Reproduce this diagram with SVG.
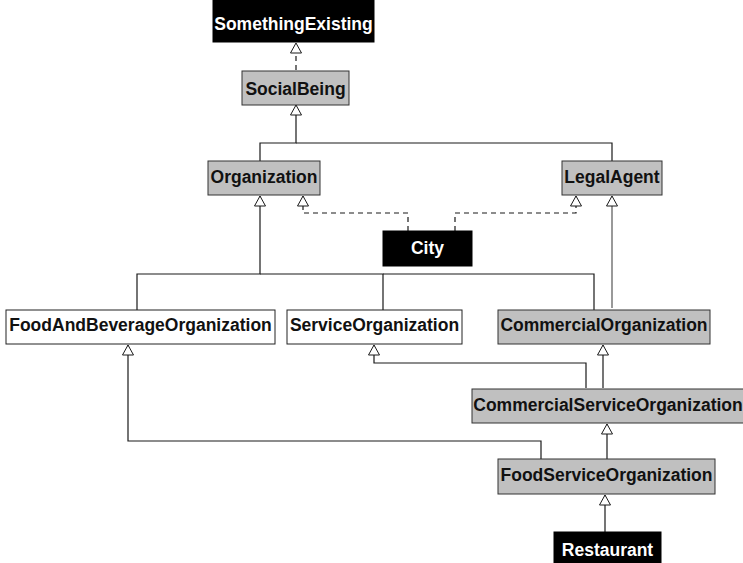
<svg xmlns="http://www.w3.org/2000/svg" width="743" height="563" viewBox="0 0 743 563">
  <style>
    .box-black { fill: #000; stroke: #000; stroke-width: 1; }
    .box-gray { fill: #c0c0c0; stroke: #333; stroke-width: 1; }
    .box-white { fill: #fff; stroke: #222; stroke-width: 1; }
    .lbl { font-family: "Liberation Sans", Arial, sans-serif; font-weight: bold; font-size: 17.5px; text-anchor: middle; }
    .lbl-w { fill: #fff; }
    .lbl-k { fill: #111; }
    .edge { fill: none; stroke: #1a1a1a; stroke-width: 1.2; }
    .edge-soft { fill: none; stroke: #555; stroke-width: 1.2; }
    .dashed { stroke-dasharray: 5 4; }
  </style>
  <defs>
    <!-- hollow generalization arrowhead -->
    <marker id="gen" viewBox="0 0 10 11" refX="10" refY="5.5" markerWidth="10" markerHeight="11" markerUnits="userSpaceOnUse" orient="auto" overflow="visible">
      <path d="M0,0 L10,5.5 L0,11 Z" fill="#fff" stroke="#1a1a1a" stroke-width="1"/>
    </marker>
  </defs>
  <rect width="743" height="563" fill="#fff"/>

  <g id="connectors">
    <path class="edge dashed" d="M296,70 V43" marker-end="url(#gen)"/>
    <path class="edge" d="M260,161 V143 H296 V105" marker-end="url(#gen)"/>
    <path class="edge" d="M612,161 V143 H296"/>
    <path class="edge dashed" d="M408,231 V213 H303 V196" marker-end="url(#gen)"/>
    <path class="edge dashed" d="M455,231 V213 H576 V196" marker-end="url(#gen)"/>
    <path class="edge" d="M137,310 V274 H260 V196" marker-end="url(#gen)"/>
    <path class="edge" d="M383,310 V274 H260"/>
    <path class="edge" d="M594,310 V274 H383"/>
    <path class="edge-soft" d="M612,308 V196" marker-end="url(#gen)"/>
    <path class="edge" d="M586,388 V363 H374 V345" marker-end="url(#gen)"/>
    <path class="edge" d="M603,388 V345" marker-end="url(#gen)"/>
    <path class="edge" d="M541,459 V441 H128 V345" marker-end="url(#gen)"/>
    <path class="edge" d="M607,459 V424" marker-end="url(#gen)"/>
    <path class="edge" d="M605,532 V495" marker-end="url(#gen)"/>
  </g>

  <g id="SomethingExisting">
    <rect class="box-black" x="213" y="-2" width="161" height="44"/>
    <text class="lbl lbl-w" x="293.5" y="30">SomethingExisting</text>
  </g>
  <g id="SocialBeing">
    <rect class="box-gray" x="242" y="71" width="107" height="34"/>
    <text class="lbl lbl-k" x="295.5" y="95">SocialBeing</text>
  </g>
  <g id="Organization">
    <rect class="box-gray" x="208" y="161" width="112" height="34"/>
    <text class="lbl lbl-k" x="264" y="182.5">Organization</text>
  </g>
  <g id="LegalAgent">
    <rect class="box-gray" x="562" y="161" width="100" height="34"/>
    <text class="lbl lbl-k" x="612" y="182.5">LegalAgent</text>
  </g>
  <g id="City">
    <rect class="box-black" x="383" y="231" width="89" height="35"/>
    <text class="lbl lbl-w" x="427.5" y="254">City</text>
  </g>
  <g id="FoodAndBeverageOrganization">
    <rect class="box-white" x="6" y="310" width="269" height="34"/>
    <text class="lbl lbl-k" x="140.5" y="331">FoodAndBeverageOrganization</text>
  </g>
  <g id="ServiceOrganization">
    <rect class="box-white" x="287" y="310" width="175" height="34"/>
    <text class="lbl lbl-k" x="374.5" y="331">ServiceOrganization</text>
  </g>
  <g id="CommercialOrganization">
    <rect class="box-gray" x="498" y="310" width="212" height="34"/>
    <text class="lbl lbl-k" x="604" y="331">CommercialOrganization</text>
  </g>
  <g id="CommercialServiceOrganization">
    <rect class="box-gray" x="472" y="389" width="274" height="34"/>
    <text class="lbl lbl-k" x="608" y="410.5">CommercialServiceOrganization</text>
  </g>
  <g id="FoodServiceOrganization">
    <rect class="box-gray" x="498" y="459" width="217" height="35"/>
    <text class="lbl lbl-k" x="606.5" y="481">FoodServiceOrganization</text>
  </g>
  <g id="Restaurant">
    <rect class="box-black" x="554" y="532" width="107" height="34"/>
    <text class="lbl lbl-w" x="607.5" y="556">Restaurant</text>
  </g>
</svg>
